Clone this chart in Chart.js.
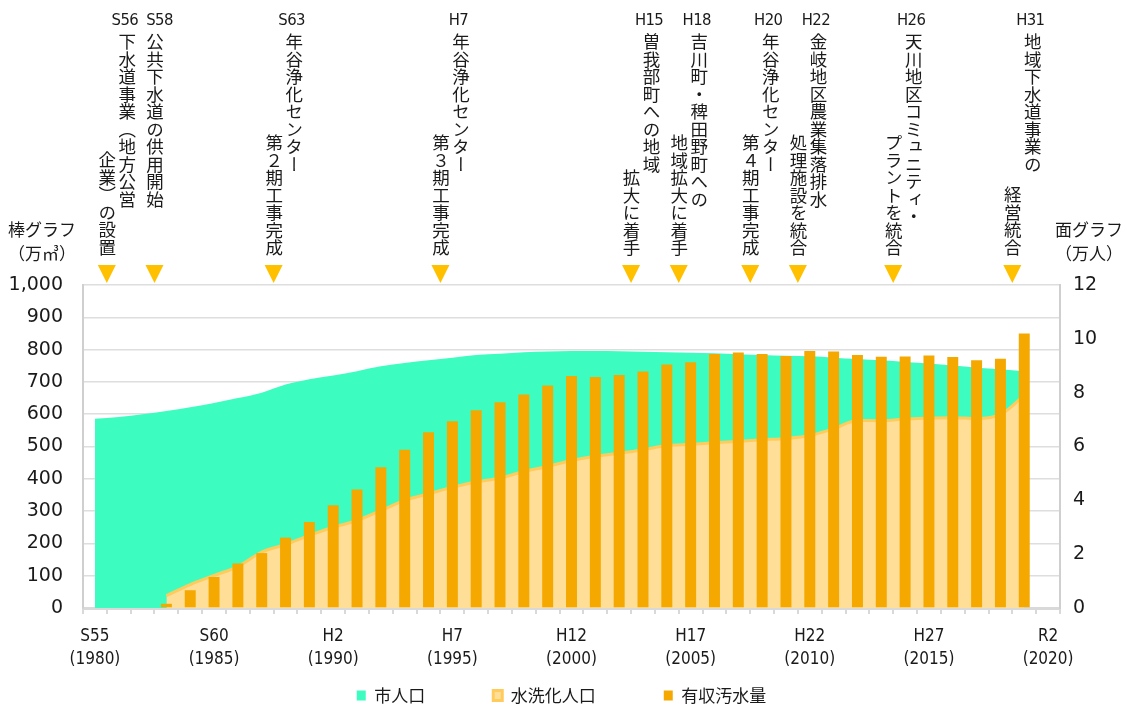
<!DOCTYPE html>
<html lang="ja">
<head>
<meta charset="utf-8">
<script src="https://cdn.jsdelivr.net/npm/chart.js@4.4.1/dist/chart.umd.min.js"></script>
<style>
  html, body { margin: 0; padding: 0; background: #fff; overflow: hidden; }
  #wrap { position: relative; width: 1123px; height: 714px; }
  .note { position: absolute; writing-mode: vertical-rl; font-family: 'Noto Sans CJK JP', sans-serif; font-size: 17.5px; line-height: 20px; width: 20px; color: #1a1a1a; white-space: nowrap; }
  .era { position: absolute; top: 9px; width: 60px; text-align: center; font-family: 'DejaVu Sans Condensed', 'Liberation Sans', sans-serif; font-size: 16.5px; letter-spacing: -0.6px; line-height: 22px; color: #1a1a1a; }
  .axtitle { position: absolute; top: 217px; width: 90px; text-align: center; font-family: 'Noto Sans CJK JP', sans-serif; font-size: 17px; line-height: 24px; color: #1a1a1a; }
</style>
</head>
<body>
<div id="wrap">
  <canvas id="chart"></canvas>
  <div class="axtitle" style="left:-3px">棒グラフ<br>（万㎥）</div>
  <div class="axtitle" style="left:1044px">面グラフ<br>（万人）</div>
</div>
<script>
// 年度 (S55〜R2)
const years = [1980, 1981, 1982, 1983, 1984, 1985, 1986, 1987, 1988, 1989,
  1990, 1991, 1992, 1993, 1994, 1995, 1996, 1997, 1998, 1999,
  2000, 2001, 2002, 2003, 2004, 2005, 2006, 2007, 2008, 2009,
  2010, 2011, 2012, 2013, 2014, 2015, 2016, 2017, 2018, 2019, 2020];

// x軸に出す年と和暦
const tickYears = [1980, 1985, 1990, 1995, 2000, 2005, 2010, 2015, 2020];
const tickEras = ['S55', 'S60', 'H2', 'H7', 'H12', 'H17', 'H22', 'H27', 'R2'];

// 市人口 (万人)
const cityPop = [7.03, 7.10, 7.20, 7.32, 7.46, 7.62, 7.80, 8.00, 8.30, 8.50,
  8.64, 8.80, 8.98, 9.10, 9.20, 9.30, 9.40, 9.45, 9.50, 9.53,
  9.55, 9.55, 9.54, 9.52, 9.50, 9.48, 9.46, 9.43, 9.40, 9.37,
  9.35, 9.30, 9.25, 9.20, 9.14, 9.08, 9.01, 8.93, 8.87, 8.80, null];

// 水洗化人口 (万人)
const flushPop = [null, null, null, 0.46, 0.87, 1.21, 1.54, 2.08, 2.36, 2.70,
  3.00, 3.25, 3.62, 4.00, 4.24, 4.49, 4.68, 4.83, 5.07, 5.26,
  5.48, 5.64, 5.75, 5.88, 6.04, 6.08, 6.14, 6.19, 6.25, 6.30,
  6.41, 6.66, 6.97, 6.96, 7.02, 7.06, 7.07, 7.04, 7.19, 7.90, null];

// 有収汚水量 (万㎥)
const sewage = [null, null, null, 13, 55, 96, 138, 170, 218, 266,
  318, 367, 436, 490, 544, 578, 612, 637, 661, 689,
  718, 715, 721, 732, 754, 761, 786, 791, 786, 780,
  796, 794, 783, 778, 779, 782, 777, 767, 772, 850, null];

// 主な出来事 (位置はカテゴリ番号、境目は .5)
const eventEras = ['S56', 'S58', 'S63', 'H7', 'H15', 'H18', 'H20', 'H22', 'H26', 'H31'];
const eventPos = [0.5, 2.5, 7.5, 14.5, 22.5, 24.5, 27.5, 29.5, 33.5, 38.5];
const eventText = [
  ['下水道事業（地方公営', '企業）の設置'],
  ['公共下水道の供用開始'],
  ['年谷浄化センター', '第２期工事完成'],
  ['年谷浄化センター', '第３期工事完成'],
  ['曽我部町への地域', '拡大に着手'],
  ['吉川町・稗田野町への', '地域拡大に着手'],
  ['年谷浄化センター', '第４期工事完成'],
  ['金岐地区農業集落排水', '処理施設を統合'],
  ['天川地区コミュニティ・', 'プラントを統合'],
  ['地域下水道事業の', '経営統合'],
];

const narrowFont = "'DejaVu Sans Condensed', 'Liberation Sans', sans-serif";
const jpFont = "'Noto Sans CJK JP', sans-serif";

// 出来事の▼と縦書きラベル
const eventsPlugin = {
  id: 'events',
  afterDraw(chart) {
    const { ctx, scales } = chart;
    ctx.save();
    ctx.fillStyle = '#FFC000';
    eventPos.forEach((p) => {
      const x = scales.x.getPixelForValue(p);
      ctx.beginPath();
      ctx.moveTo(x - 9, 265);
      ctx.lineTo(x + 9, 265);
      ctx.lineTo(x, 283);
      ctx.closePath();
      ctx.fill();
    });
    ctx.restore();

    if (chart._notesBuilt) return;
    chart._notesBuilt = true;
    const wrap = document.getElementById('wrap');
    eventPos.forEach((p, i) => {
      const x = scales.x.getPixelForValue(p);
      const lines = eventText[i];
      const two = lines.length > 1;

      const era = document.createElement('div');
      era.className = 'era';
      era.textContent = eventEras[i];
      era.style.left = (x + (two ? 18 : 5) - 30) + 'px';
      wrap.appendChild(era);

      const c1 = document.createElement('div');
      c1.className = 'note';
      c1.textContent = lines[0];
      c1.style.left = (x + (two ? 20 : 0) - 10) + 'px';
      c1.style.top = '33px';
      wrap.appendChild(c1);

      if (two) {
        const c2 = document.createElement('div');
        c2.className = 'note';
        c2.textContent = lines[1];
        c2.style.left = (x - 10) + 'px';
        c2.style.bottom = (714 - 256) + 'px';
        wrap.appendChild(c2);
      }
    });
  },
};

new Chart(document.getElementById('chart'), {
  type: 'bar',
  data: {
    labels: years,
    datasets: [
      {
        type: 'line',
        label: '市人口',
        data: cityPop,
        yAxisID: 'y1',
        fill: 'origin',
        backgroundColor: '#3DFCC0',
        borderColor: '#3DFCC0',
        borderWidth: 0,
        pointRadius: 0,
        cubicInterpolationMode: 'monotone',
        order: 3,
      },
      {
        type: 'line',
        label: '水洗化人口',
        data: flushPop,
        yAxisID: 'y1',
        fill: 'origin',
        backgroundColor: '#FFDE98',
        borderColor: '#FFCB5C',
        borderWidth: 3,
        pointRadius: 0,
        cubicInterpolationMode: 'monotone',
        order: 2,
      },
      {
        label: '有収汚水量',
        data: sewage,
        yAxisID: 'y',
        backgroundColor: '#F5A800',
        barPercentage: 0.46,
        categoryPercentage: 1.0,
        order: 1,
      },
    ],
  },
  options: {
    responsive: true,
    maintainAspectRatio: false,
    animation: false,
    layout: { padding: { top: 285, left: 0, right: 0, bottom: 0 } },
    plugins: {
      tooltip: { enabled: false },
      legend: {
        position: 'bottom',
        labels: {
          // 凡例の間隔は全角スペースで空ける
          generateLabels: (chart) => Chart.defaults.plugins.legend.labels.generateLabels(chart)
            .map((l) => ({ ...l, text: l.datasetIndex < 2 ? l.text + '\u3000\u3000\u3000' : l.text })),
          sort: (a, b) => a.datasetIndex - b.datasetIndex,
          boxWidth: 9,
          boxHeight: 10,
          padding: 17,
          color: '#1a1a1a',
          font: { family: jpFont, size: 17 },
        },
      },
    },
    scales: {
      x: {
        offset: true,
        grid: {
          display: true,
          offset: true,
          drawOnChartArea: false,
          drawTicks: true,
          tickLength: 6,
          color: '#d9d9d9',
          lineWidth: 2,
        },
        border: { display: true, color: '#d9d9d9', width: 3 },
        ticks: {
          autoSkip: false,
          maxRotation: 0,
          padding: 12,
          color: '#1a1a1a',
          font: { family: narrowFont, size: 17, lineHeight: 1.3 },
          callback: (v, i) => {
            const k = tickYears.indexOf(years[i]);
            return k < 0 ? '' : [tickEras[k], '(' + years[i] + ')'];
          },
        },
        afterFit: (s) => { s.height = s.chart.height - 608 - s.chart.legend.height; },
      },
      y: {
        position: 'left',
        min: 0,
        max: 1000,
        ticks: {
          stepSize: 100,
          padding: 20,
          color: '#1a1a1a',
          font: { family: 'DejaVu Sans', size: 19 },
          callback: (v) => v.toLocaleString('en-US'),
        },
        grid: { color: '#dedede', lineWidth: 1.5, drawTicks: false },
        border: { display: true, color: '#cfcfcf', width: 2 },
        afterFit: (s) => { s.width = 83; },
      },
      y1: {
        position: 'right',
        min: 0,
        max: 12,
        ticks: {
          stepSize: 2,
          padding: 13,
          color: '#1a1a1a',
          font: { family: 'DejaVu Sans', size: 19 },
        },
        grid: { drawOnChartArea: false, drawTicks: false },
        border: { display: true, color: '#cfcfcf', width: 2 },
        afterFit: (s) => { s.width = 63; },
      },
    },
  },
  plugins: [eventsPlugin],
});
</script>
</body>
</html>
